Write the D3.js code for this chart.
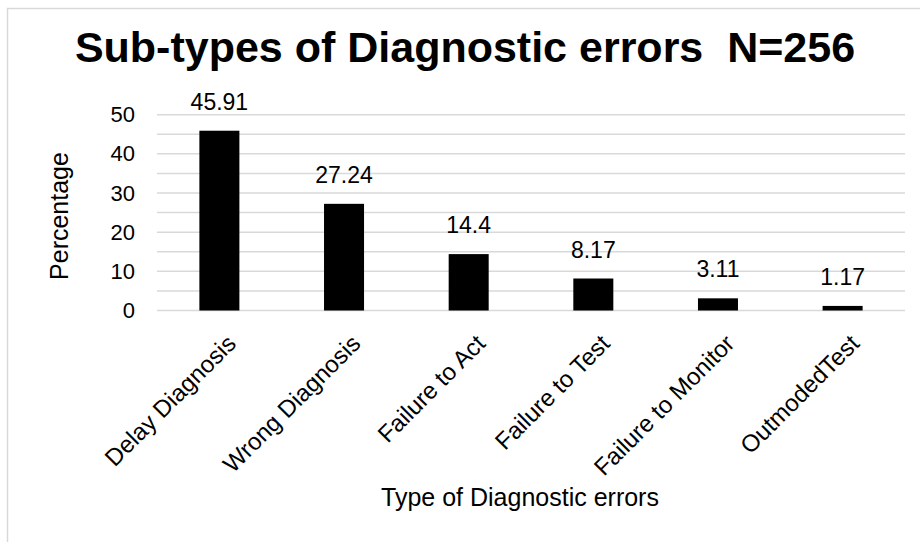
<!DOCTYPE html>
<html>
<head>
<meta charset="utf-8">
<script src="https://cdn.jsdelivr.net/npm/d3@7"></script>
<style>
  html, body { margin: 0; padding: 0; background: #fff; }
  svg { display: block; font-family: "Liberation Sans", Arial, sans-serif; }
</style>
</head>
<body>
<svg id="chart" width="920" height="542"></svg>
<script>
const categories = ["Delay Diagnosis", "Wrong Diagnosis", "Failure to Act", "Failure to Test", "Failure to Monitor", "OutmodedTest"];
const values = [45.91, 27.24, 14.4, 8.17, 3.11, 1.17];
const valueLabels = ["45.91", "27.24", "14.4", "8.17", "3.11", "1.17"];
const yTicks = [0, 10, 20, 30, 40, 50];
const gridTicks = [0, 5, 10, 15, 20, 25, 30, 35, 40, 45, 50];
const titleText = "Sub-types of Diagnostic errors\u00a0\u00a0N=256";
const xTitle = "Type of Diagnostic errors";
const yTitle = "Percentage";

const svg = d3.select("#chart");
const W = 920, H = 542;
const plot = { left: 157, right: 905, top: 114.7, bottom: 310.5 };

const x = d3.scaleBand().domain(categories).range([plot.left, plot.right])
  .paddingInner(0.679).paddingOuter(0.34);
const y = d3.scaleLinear().domain([0, 50]).range([plot.bottom, plot.top]);

// chart area border (left & top visible)
svg.append("path")
  .attr("d", `M7.5,${H} L7.5,8.5 L${W},8.5`)
  .attr("fill", "none").attr("stroke", "#d9d9d9").attr("stroke-width", 1.5);

// gridlines
svg.append("g").selectAll("line").data(gridTicks).join("line")
  .attr("x1", plot.left).attr("x2", plot.right)
  .attr("y1", d => y(d)).attr("y2", d => y(d))
  .attr("stroke", "#d9d9d9").attr("stroke-width", 1.5);

// y axis labels
const yAxis = d3.axisLeft(y).tickValues(yTicks).tickSize(0).tickPadding(0);
const gy = svg.append("g").attr("transform", `translate(135,0)`).call(yAxis);
gy.select(".domain").remove();
gy.selectAll("text").attr("font-size", 22).attr("fill", "#000")
  .attr("font-family", "'Liberation Sans', Arial, sans-serif");

// bars
svg.append("g").selectAll("rect").data(values).join("rect")
  .attr("x", (d, i) => x(categories[i]))
  .attr("width", x.bandwidth())
  .attr("y", d => y(d))
  .attr("height", d => y(0) - y(d))
  .attr("fill", "#000");

// data labels
svg.append("g").selectAll("text").data(values).join("text")
  .attr("x", (d, i) => x(categories[i]) + x.bandwidth() / 2)
  .attr("y", d => y(d) - 21)
  .attr("text-anchor", "middle")
  .attr("font-size", 23).attr("fill", "#000")
  .text((d, i) => valueLabels[i]);

// category labels
svg.append("g").selectAll("text").data(categories).join("text")
  .attr("transform", d => `translate(${x(d) + x.bandwidth() / 2 + 18},345) rotate(-45)`)
  .attr("text-anchor", "end")
  .attr("font-size", 24).attr("fill", "#000")
  .text(d => d);

// axis titles
svg.append("text")
  .attr("x", 520).attr("y", 506)
  .attr("text-anchor", "middle").attr("font-size", 25).attr("fill", "#000")
  .text(xTitle);

svg.append("text")
  .attr("transform", `translate(68,216) rotate(-90)`)
  .attr("text-anchor", "middle").attr("font-size", 25).attr("fill", "#000")
  .text(yTitle);

// title
svg.append("text")
  .attr("x", 465).attr("y", 62)
  .attr("text-anchor", "middle").attr("font-size", 43).attr("font-weight", "bold").attr("fill", "#000")
  .text(titleText);
</script>
</body>
</html>
